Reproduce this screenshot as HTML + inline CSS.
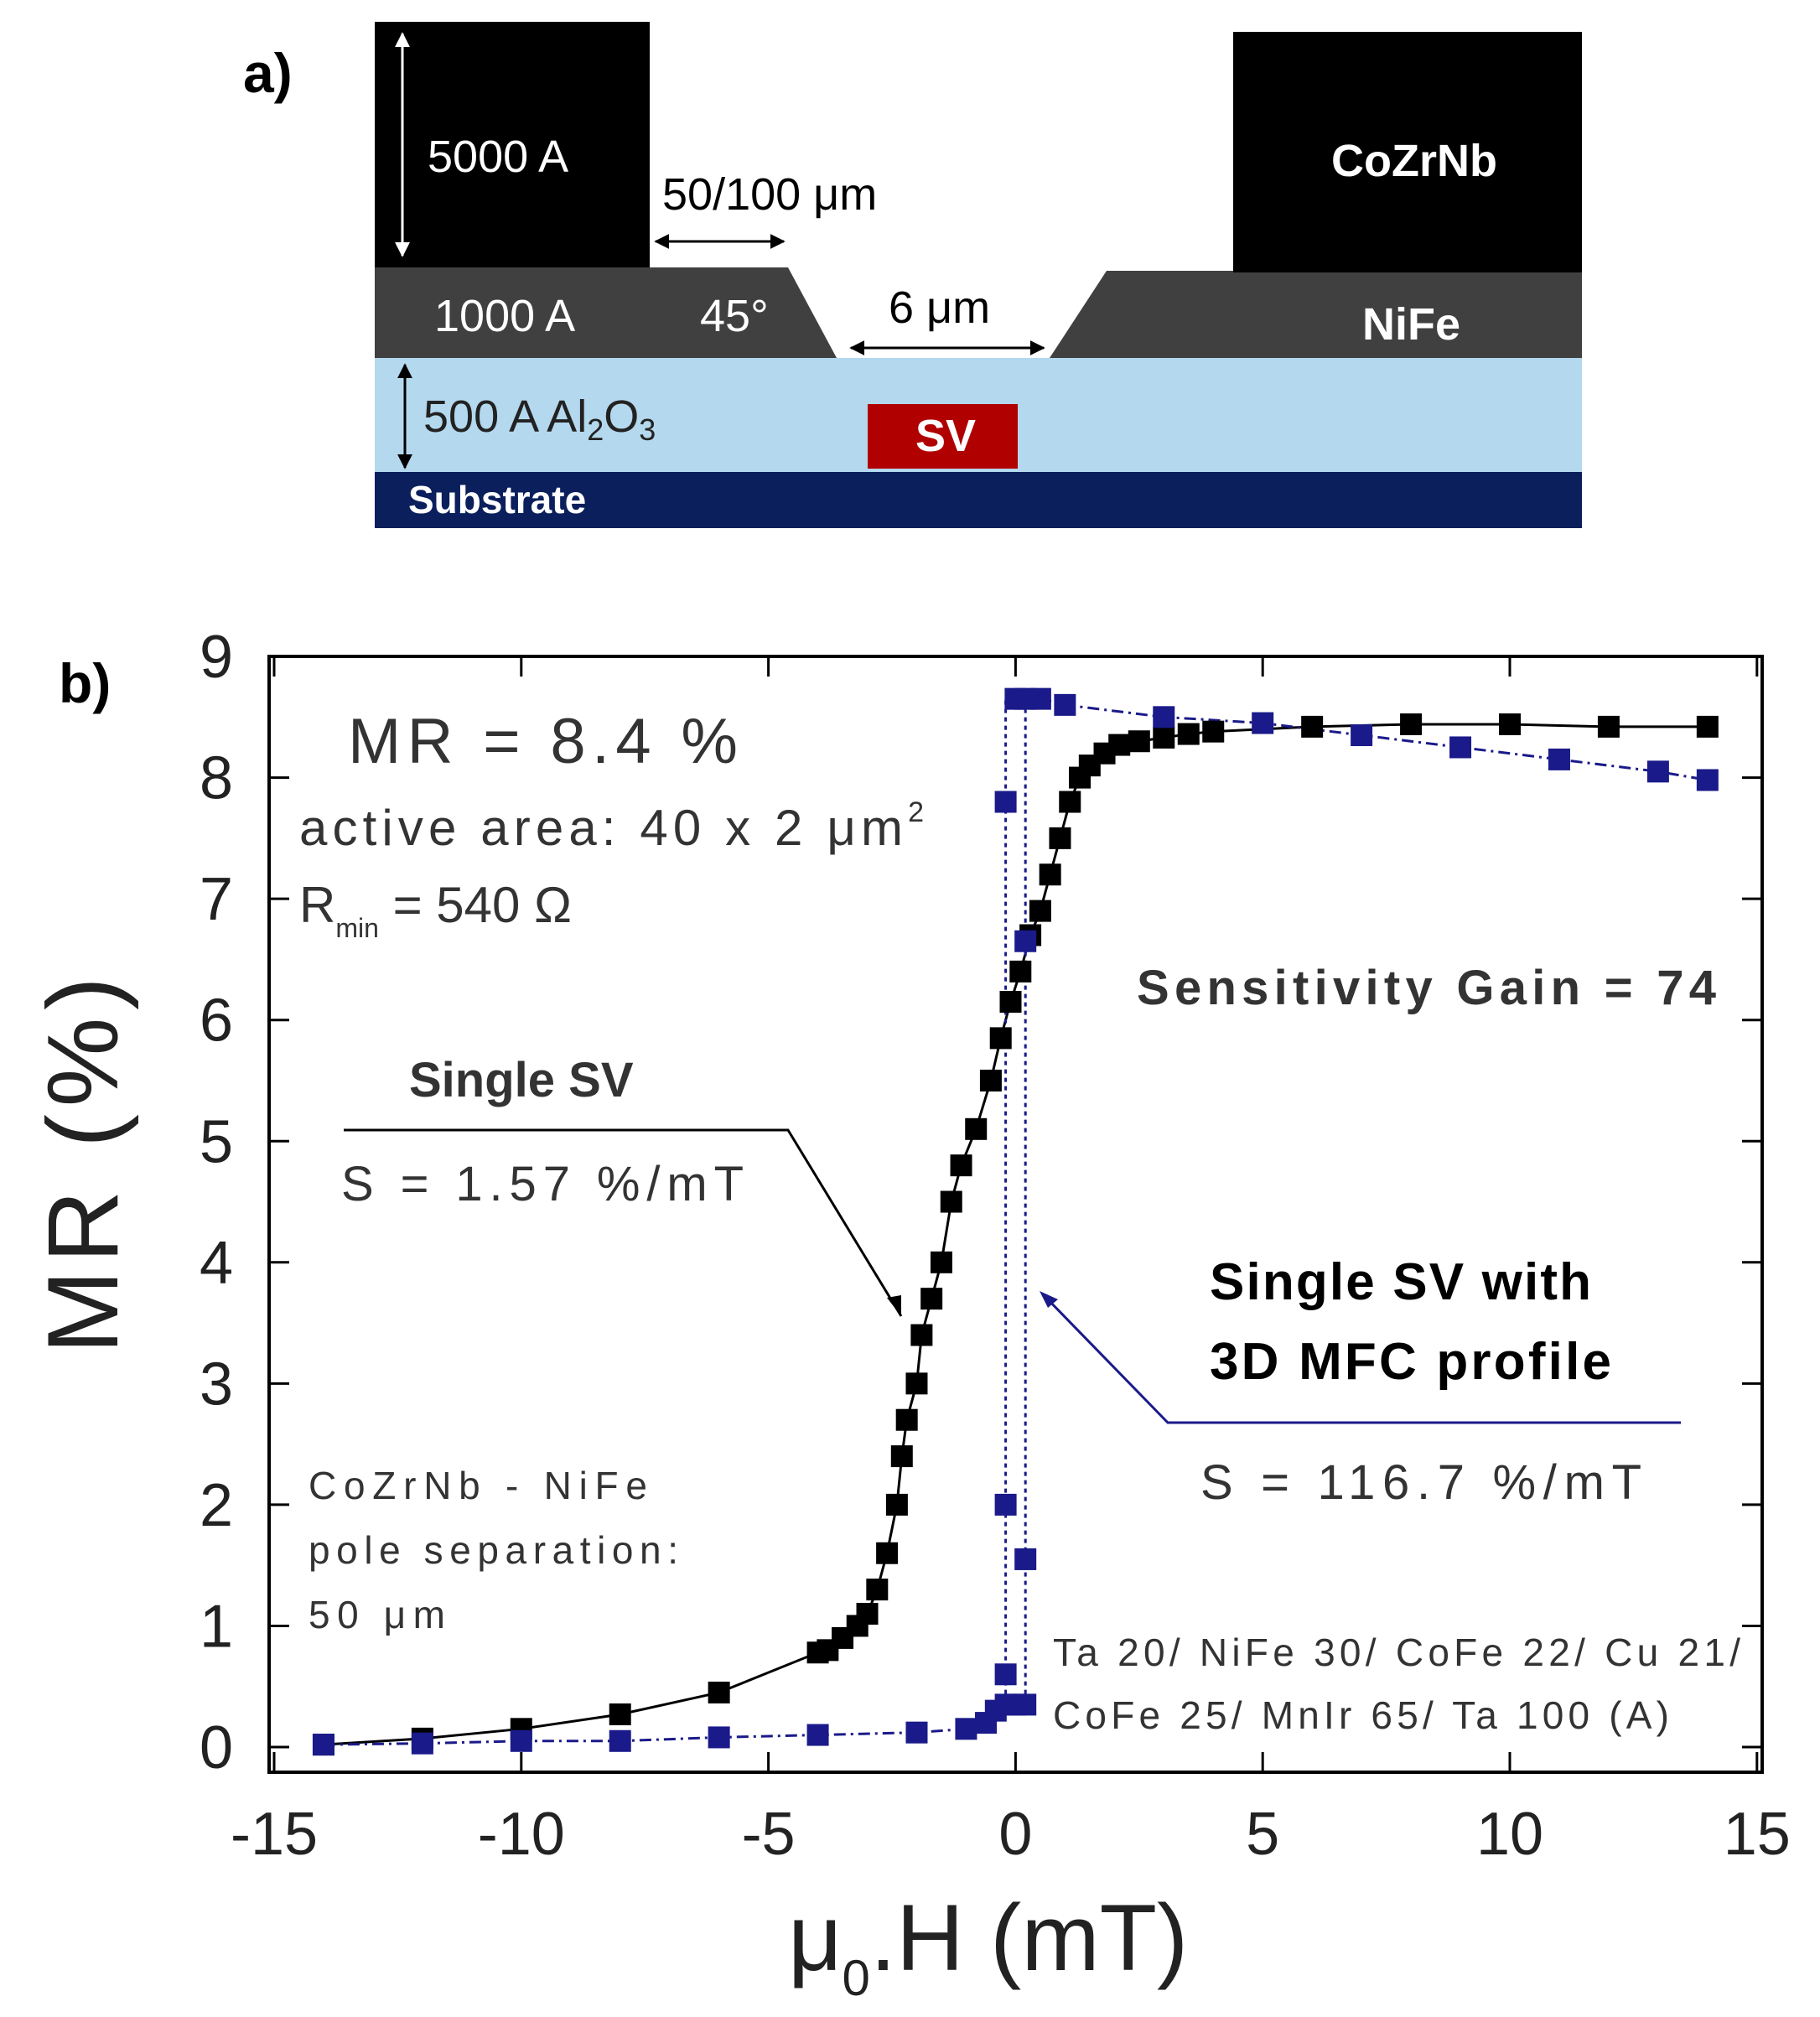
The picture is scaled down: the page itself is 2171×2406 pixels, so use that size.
<!DOCTYPE html>
<html><head><meta charset="utf-8"><style>
body{margin:0;background:#fff;}
svg{display:block;font-family:"Liberation Sans",sans-serif;}
</style></head><body>
<svg width="2171" height="2406" viewBox="0 0 2171 2406">
<defs>
<marker id="ah" viewBox="0 0 10 10" refX="9" refY="5" markerWidth="6" markerHeight="6" orient="auto-start-reverse"><path d="M0,0 L10,5 L0,10 z" fill="#000"/></marker>
<marker id="ahw" viewBox="0 0 10 10" refX="9" refY="5" markerWidth="6" markerHeight="6" orient="auto-start-reverse"><path d="M0,0 L10,5 L0,10 z" fill="#fff"/></marker>
</defs>
<g>
<text x="290" y="110" font-size="66" font-weight="bold">a)</text>
<rect x="447" y="563" width="1440" height="67" fill="#0a1f5c"/>
<rect x="447" y="427" width="1440" height="136" fill="#b4d8ee"/>
<polygon points="447,319 940,319 998,427 447,427" fill="#404040"/>
<polygon points="1320,323 1887,323 1887,427 1252,427" fill="#404040"/>
<rect x="447" y="26" width="328" height="293" fill="#000"/>
<rect x="1471" y="38" width="416" height="287" fill="#000"/>
<rect x="1035" y="482" width="179" height="77" fill="#b00000"/>
<g fill="#fff" font-size="54">
<text x="510" y="205">5000 A</text>
<text x="518" y="395">1000 A</text>
<text x="835" y="395">45°</text>
<text x="1588" y="210" font-weight="bold">CoZrNb</text>
<text x="1625" y="405" font-weight="bold">NiFe</text>
<text x="1092" y="538" font-weight="bold">SV</text>
<text x="487" y="612" font-size="46" font-weight="bold">Substrate</text>
</g>
<text x="790" y="250" font-size="54">50/100 μm</text>
<text x="1060" y="385" font-size="54">6 μm</text>
<text x="505" y="515" font-size="54" fill="#222">500 A Al<tspan font-size="36" dy="10">2</tspan><tspan dy="-10">O</tspan><tspan font-size="36" dy="10">3</tspan></text>
<g stroke-width="3">
<line x1="480" y1="40" x2="480" y2="305" stroke="#fff" marker-start="url(#ahw)" marker-end="url(#ahw)"/>
<line x1="483" y1="435" x2="483" y2="558" stroke="#000" marker-start="url(#ah)" marker-end="url(#ah)"/>
<line x1="782" y1="288" x2="935" y2="288" stroke="#000" marker-start="url(#ah)" marker-end="url(#ah)"/>
<line x1="1015" y1="415" x2="1245" y2="415" stroke="#000" marker-start="url(#ah)" marker-end="url(#ah)"/>
</g>
</g>
<text x="70" y="838" font-size="66" font-weight="bold">b)</text>
<g id="chart"></g>
<script>
const xTicks=[-15,-10,-5,0,5,10,15];
const yTicks=[0,1,2,3,4,5,6,7,8,9];
const blackX=[-14,-12,-10,-8,-6,-4,-3.8,-3.5,-3.2,-3,-2.8,-2.6,-2.4,-2.3,-2.2,-2,-1.9,-1.7,-1.5,-1.3,-1.1,-0.8,-0.5,-0.3,-0.1,0.1,0.3,0.5,0.7,0.9,1.1,1.3,1.5,1.8,2.1,2.5,3,3.5,4,6,8,10,12,14];
const blackY=[0.02,0.07,0.15,0.27,0.45,0.78,0.8,0.9,1.0,1.1,1.3,1.6,2.0,2.4,2.7,3.0,3.4,3.7,4.0,4.5,4.8,5.1,5.5,5.85,6.15,6.4,6.7,6.9,7.2,7.5,7.8,8.0,8.1,8.2,8.27,8.3,8.33,8.36,8.38,8.42,8.44,8.44,8.42,8.42];
const blueX=[-14,-12,-10,-8,-6,-4,-2,-1,-0.6,-0.4,-0.2,0,0.2];
const blueY=[0.02,0.03,0.05,0.05,0.08,0.1,0.12,0.15,0.2,0.3,0.35,0.35,0.35];
const blueTopX=[0,0.2,0.5,1,3,5,7,9,11,13,14];
const blueTopY=[8.65,8.65,8.65,8.6,8.5,8.45,8.35,8.25,8.15,8.05,7.98];
const blueJumpX=[-0.2,-0.2,-0.2,0.2,0.2];
const blueJumpY=[0.6,2.0,7.8,1.55,6.65];
const NS='http://www.w3.org/2000/svg';
const g=document.getElementById('chart');
const X=v=>1211.4+v*58.96;
const Y=v=>2084-v*144.55;
function mk(t,a){const e=document.createElementNS(NS,t);for(const k in a)e.setAttribute(k,a[k]);g.appendChild(e);return e;}
let e=mk('rect',{x:321,y:783,width:1781,height:1331,fill:'none',stroke:'#000','stroke-width':4});


xTicks.forEach(t=>{
  mk('line',{x1:X(t),x2:X(t),y1:2114,y2:2090,stroke:'#000','stroke-width':3});
  mk('line',{x1:X(t),x2:X(t),y1:783,y2:807,stroke:'#000','stroke-width':3});
  const tx=mk('text',{x:X(t),y:2212,'font-size':72,'text-anchor':'middle',fill:'#222'});tx.textContent=t;
  
  
});
yTicks.forEach(t=>{
  mk('line',{x1:321,x2:345,y1:Y(t),y2:Y(t),stroke:'#000','stroke-width':3});
  mk('line',{x1:2102,x2:2078,y1:Y(t),y2:Y(t),stroke:'#000','stroke-width':3});
  const tx=mk('text',{x:278,y:Y(t)+25,'font-size':72,'text-anchor':'end',fill:'#222'});tx.textContent=t;
  
  
});
function line(xs,ys,col,dash,name){
  const p=mk('polyline',{points:xs.map((x,i)=>X(x)+','+Y(ys[i])).join(' '),fill:'none',stroke:col,'stroke-width':3,'stroke-dasharray':dash});
  
  
}
function pts(xs,ys,col,name){
  xs.forEach((x,i)=>{const r=mk('rect',{x:X(x)-13,y:Y(ys[i])-13,width:26,height:26,fill:col});
    
    });
}
const BL='#1a1a8a';
line(blackX,blackY,'#000','','single-sv-line');
line(blueX,blueY,BL,'14 6 3 6','mfc-line-low');
line(blueTopX,blueTopY,BL,'14 6 3 6','mfc-line-high');
mk('line',{x1:X(-0.2),x2:X(-0.2),y1:Y(0.3),y2:Y(8.65),stroke:BL,'stroke-width':3,'stroke-dasharray':'5 5'});
mk('line',{x1:X(0.2),x2:X(0.2),y1:Y(0.3),y2:Y(8.65),stroke:BL,'stroke-width':3,'stroke-dasharray':'5 5'});
pts(blackX,blackY,'#000','single-sv-point');
pts(blueX,blueY,BL,'mfc-point');
pts(blueTopX,blueTopY,BL,'mfc-point');
pts(blueJumpX,blueJumpY,BL,'mfc-point');
</script>
<g fill="#333">
<text x="415" y="910" font-size="76" textLength="465">MR = 8.4 %</text>
<text x="357" y="1008" font-size="60"><tspan textLength="720">active area: 40 x 2 μm</tspan><tspan font-size="34" dy="-28">2</tspan></text>
<text x="357" y="1100" font-size="60">R<tspan font-size="32" dy="18">min</tspan><tspan dy="-18"> = 540 Ω</tspan></text>
<text x="1356" y="1198" font-size="58" font-weight="bold" textLength="691">Sensitivity Gain = 74</text>
<text x="488" y="1308" font-size="58" font-weight="bold">Single SV</text>
<text x="407" y="1432" font-size="58" textLength="480">S = 1.57 %/mT</text>
<text x="1443" y="1550" font-size="62" font-weight="bold" fill="#000" textLength="455">Single SV with</text>
<text x="1443" y="1645" font-size="62" font-weight="bold" fill="#000" textLength="479">3D MFC profile</text>
<text x="1432" y="1788" font-size="58" textLength="526">S = 116.7 %/mT</text>
<text x="368" y="1788" font-size="46" textLength="404">CoZrNb - NiFe</text>
<text x="368" y="1865" font-size="46" textLength="441">pole separation:</text>
<text x="368" y="1942" font-size="46" textLength="163">50 μm</text>
<text x="1256" y="1987" font-size="46" textLength="820">Ta 20/ NiFe 30/ CoFe 22/ Cu 21/</text>
<text x="1256" y="2062" font-size="46" textLength="735">CoFe 25/ MnIr 65/ Ta 100 (A)</text>
</g>
<polyline points="410,1348 940,1348 1075,1570" fill="none" stroke="#000" stroke-width="3"/>
<polygon points="1075,1570 1058,1548 1075,1545" fill="#000"/>
<polyline points="2005,1697 1393,1697 1245,1545" fill="none" stroke="#1a1a8a" stroke-width="3"/>
<polygon points="1240,1540 1262,1550 1250,1560" fill="#1a1a8a"/>
<text x="140" y="1390" font-size="120" fill="#222" transform="rotate(-90 140 1390)" text-anchor="middle" textLength="450">MR (%)</text>
<text x="940" y="2350" font-size="112" fill="#222">μ<tspan font-size="60" dy="30">0</tspan><tspan dy="-30">.H (mT)</tspan></text>
</svg>
</body></html>
